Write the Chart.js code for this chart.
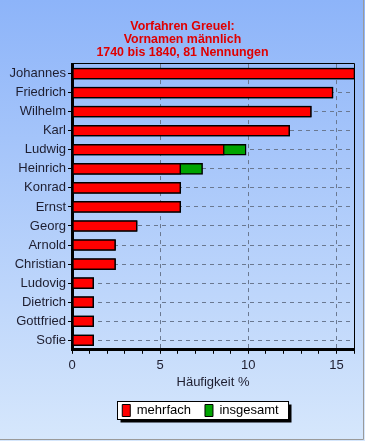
<!DOCTYPE html>
<html>
<head>
<meta charset="utf-8">
<script src="https://cdn.jsdelivr.net/npm/chart.js@4/dist/chart.umd.min.js"></script>
<style>
html,body{margin:0;padding:0;background:#fff;}
canvas{display:block;}
</style>
</head>
<body>
<canvas id="c" width="365" height="441"></canvas>
<script>
const titleLines = ["Vorfahren Greuel:", "Vornamen männlich", "1740 bis 1840, 81 Nennungen"];
const categories = ["Johannes","Friedrich","Wilhelm","Karl","Ludwig","Heinrich","Konrad","Ernst","Georg","Arnold","Christian","Ludovig","Dietrich","Gottfried","Sofie"];
const mehrfach = [16.05,14.81,13.58,12.35,8.64,6.17,6.17,6.17,3.70,2.47,2.47,1.23,1.23,1.23,1.23];
const insgesamt = [16.05,14.81,13.58,12.35,9.88,7.41,6.17,6.17,3.70,2.47,2.47,1.23,1.23,1.23,1.23];
const xTitle = "Häufigkeit %";
const xMin = 0, xMax = 16, xStep = 1, xLabelEvery = 5;

const textColor = '#1e1e30';
const gridColor = '#6a7890';

const bgPlugin = {
  id: 'bg',
  afterLayout(chart) {
    const lg = chart.legend;
    if (lg) { lg.left += 18; lg.right += 18; }
  },
  beforeDraw(chart) {
    const ctx = chart.ctx, w = chart.width, h = chart.height;
    ctx.save();
    const g = ctx.createLinearGradient(0, 0, 0, h);
    g.addColorStop(0, '#8db4f9');
    g.addColorStop(1, '#d6e7fc');
    ctx.fillStyle = g;
    ctx.fillRect(0, 0, w, h);
    ctx.strokeStyle = '#9a9a9a';
    ctx.lineWidth = 1;
    ctx.beginPath();
    ctx.moveTo(w - 1.5, 0); ctx.lineTo(w - 1.5, h - 1.5); ctx.lineTo(0, h - 1.5);
    ctx.stroke();
    const lg = chart.legend;
    if (lg && lg.legendHitBoxes && lg.legendHitBoxes.length) {
      let x0 = Infinity, x1 = -Infinity, y0 = Infinity, y1 = -Infinity;
      lg.legendHitBoxes.forEach(b => {
        x0 = Math.min(x0, b.left); x1 = Math.max(x1, b.left + b.width);
        y0 = Math.min(y0, b.top); y1 = Math.max(y1, b.top + b.height);
      });
      const bx = Math.round(x0 - 5) + 0.5, by = Math.round(y0 - 3) + 0.5;
      const bw = Math.round(x1 - x0 + 15), bh = Math.round(y1 - y0 + 5);
      ctx.fillStyle = '#000';
      ctx.fillRect(bx + 3, by + 3, bw, bh);
      ctx.fillStyle = '#fff';
      ctx.fillRect(bx, by, bw, bh);
      ctx.strokeStyle = '#000';
      ctx.strokeRect(bx, by, bw, bh);
    }
    ctx.restore();
  },
  afterDraw(chart) {
    const a = chart.chartArea, ctx = chart.ctx;
    ctx.save();
    ctx.strokeStyle = '#000';
    ctx.lineWidth = 1;
    ctx.beginPath();
    ctx.moveTo(a.left, Math.round(a.top) - 0.5);
    ctx.lineTo(Math.round(a.right) + 0.5, Math.round(a.top) - 0.5);
    ctx.lineTo(Math.round(a.right) + 0.5, a.bottom);
    ctx.stroke();
    ctx.restore();
  }
};

new Chart(document.getElementById('c'), {
  type: 'bar',
  data: {
    labels: categories,
    datasets: [
      { label: 'mehrfach', data: mehrfach, backgroundColor: '#ff0000', borderColor: '#000', borderWidth: 1.5, borderSkipped: false, barThickness: 11, order: 1 },
      { label: 'insgesamt', data: insgesamt, backgroundColor: '#00a400', borderColor: '#000', borderWidth: 1.5, borderSkipped: false, barThickness: 11, order: 2 }
    ]
  },
  options: {
    responsive: false,
    animation: false,
    indexAxis: 'y',
    layout: { padding: { left: 0, right: 0, top: 0, bottom: 14 } },
    scales: {
      y: {
        stacked: true,
        afterFit(s) { s.width = 72; },
        grid: { offset: false, color: gridColor, lineWidth: 1, tickLength: 4, tickColor: '#000' },
        border: { color: '#000', width: 3, dash: [4, 4] },
        ticks: { color: textColor, font: { family: 'Liberation Sans', size: 13 }, padding: 2, autoSkip: false }
      },
      yRight: {
        type: 'category', position: 'right',
        afterFit(s) { s.width = 11; },
        grid: { display: false, drawTicks: false },
        border: { display: false },
        ticks: { display: false }
      },
      x: {
        min: xMin, max: xMax,
        grid: {
          color: c => (c.tick && c.tick.value % xLabelEvery === 0 && c.tick.value !== xMin) ? gridColor : 'rgba(0,0,0,0)',
          tickLength: 4, tickColor: '#000'
        },
        border: { color: '#000', width: 3, dash: [4, 4] },
        ticks: {
          stepSize: xStep, autoSkip: false, maxRotation: 0, color: textColor,
          font: { family: 'Liberation Sans', size: 13 }, padding: 4,
          callback: v => (v % xLabelEvery === 0 ? String(v) : '')
        },
        title: { display: true, text: xTitle, color: textColor, font: { family: 'Liberation Sans', size: 13 }, padding: { top: -3, bottom: 0 } }
      }
    },
    plugins: {
      title: {
        display: true, text: titleLines, color: '#e00000',
        font: { family: 'Liberation Sans', size: 12.4, weight: 'bold', lineHeight: 1.05 },
        padding: { top: 20, bottom: 5 }
      },
      legend: {
        position: 'bottom',
        labels: {
          color: '#000', font: { family: 'Liberation Sans', size: 13 },
          boxWidth: 8, boxHeight: 12, padding: 14,
          generateLabels(chart) {
            return chart.data.datasets.map((d, i) => ({
              text: d.label, fillStyle: d.backgroundColor, strokeStyle: '#000', lineWidth: 1,
              datasetIndex: i, fontColor: '#000', hidden: false
            }));
          }
        }
      },
      tooltip: { enabled: false }
    }
  },
  plugins: [bgPlugin]
});
</script>
</body>
</html>
